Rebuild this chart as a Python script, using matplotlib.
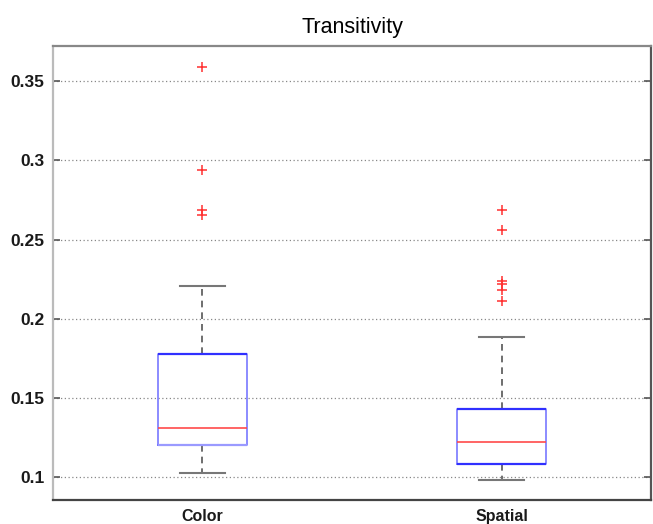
import matplotlib.pyplot as plt

# Box statistics for the two conditions
groups = ['Color', 'Spatial']
whisker_low = [0.1023, 0.0983]
q1 = [0.1204, 0.1082]
median = [0.1311, 0.1221]
q3 = [0.1777, 0.1431]
whisker_high = [0.2208, 0.1886]
outliers = [
    [0.3592, 0.2938, 0.2686, 0.2652],
    [0.2688, 0.2561, 0.2235, 0.2222, 0.2178, 0.2113],
]

y_ticks = [0.1, 0.15, 0.2, 0.25, 0.3, 0.35]
y_labels = ['0.1', '0.15', '0.2', '0.25', '0.3', '0.35']

stats = []
for i, name in enumerate(groups):
    stats.append({
        'label': name,
        'whislo': whisker_low[i],
        'q1': q1[i],
        'med': median[i],
        'q3': q3[i],
        'whishi': whisker_high[i],
        'fliers': outliers[i],
    })

plt.rcParams['font.family'] = ['Liberation Sans', 'DejaVu Sans']

fig = plt.figure(figsize=(6.53, 5.24), dpi=100)
ax = fig.add_axes([0.081, 0.045, 0.916, 0.868])

ax.bxp(stats, positions=[1, 2], widths=0.3,
       boxprops=dict(color='#7878ff', linewidth=1.2),
       medianprops=dict(color='#ff4a4a', linewidth=1.2),
       whiskerprops=dict(color='#555555', linestyle=(0, (4, 3)), linewidth=1.2),
       capprops=dict(color='#777777', linewidth=1.5),
       flierprops=dict(marker='+', markeredgecolor='#ff3030', markersize=6.5,
                       markeredgewidth=1.1, linestyle='none'),
       capwidths=0.15)

# darker top and bottom edges of each box
ax.hlines(q3, [0.85, 1.85], [1.15, 2.15], colors='#3030ff', linewidth=1.6, zorder=3)
ax.hlines(q1, [0.85, 1.85], [1.15, 2.15], colors=['#9a9aff', '#3030ff'],
          linewidth=1.6, zorder=3)

ax.set_xlim(0.5, 2.5)
ax.set_ylim(0.0852, 0.3725)
ax.set_yticks(y_ticks)
ax.set_yticklabels(y_labels)
ax.set_xticks([1, 2])
ax.set_xticklabels(groups)

ax.yaxis.grid(True, color='#888888', linestyle=(0, (1, 2)), linewidth=0.9)
ax.set_axisbelow(True)
ax.tick_params(axis='y', direction='in', length=5, width=1.2, color='#555555',
               right=True, labelsize=12.5, pad=6)
ax.tick_params(axis='x', length=0, labelsize=11.5, pad=6)
for lab in ax.get_yticklabels() + ax.get_xticklabels():
    lab.set_fontweight('bold')
    lab.set_color('#1a1a1a')

ax.spines['left'].set_color('#bbbbbb')
ax.spines['top'].set_color('#888888')
ax.spines['right'].set_color('#555555')
ax.spines['bottom'].set_color('#444444')
for s in ax.spines.values():
    s.set_linewidth(1.6)

ax.set_title('Transitivity', fontsize=15.5, pad=9)

fig.savefig('out.png', dpi=100)
